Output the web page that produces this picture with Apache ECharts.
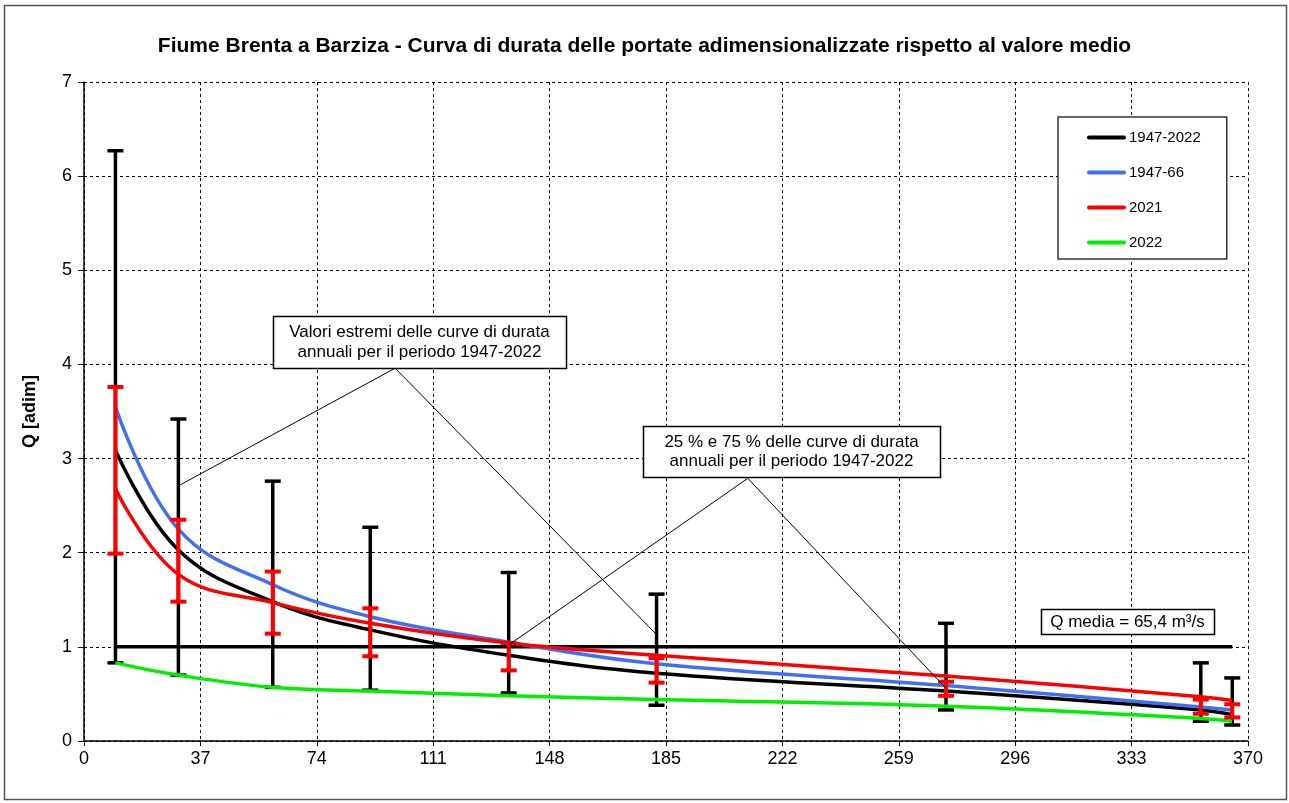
<!DOCTYPE html>
<html>
<head>
<meta charset="utf-8">
<script src="https://cdn.jsdelivr.net/npm/echarts@6/dist/echarts.min.js"></script>
<style>
html,body{margin:0;padding:0;background:#fff;}
#chart{width:1289px;height:803px;}
</style>
</head>
<body>
<div id="chart"></div>
<script>
// ---- data ----
var days = [10, 30, 60, 91, 135, 182, 274, 355, 365];
var curve1947_2022 = [3.09, 2.03, 1.48, 1.18, 0.91, 0.72, 0.53, 0.33, 0.28];
var curve1947_66   = [3.55, 2.25, 1.66, 1.32, 1.05, 0.82, 0.59, 0.36, 0.33];
var curve2021      = [2.68, 1.77, 1.47, 1.25, 1.04, 0.91, 0.69, 0.47, 0.43];
var curve2022      = [0.83, 0.70, 0.57, 0.53, 0.48, 0.44, 0.37, 0.24, 0.21];
var extremeMax = [6.27, 3.42, 2.76, 2.27, 1.79, 1.56, 1.25, 0.83, 0.67];
var extremeMin = [0.83, 0.70, 0.57, 0.54, 0.51, 0.38, 0.33, 0.21, 0.17];
var q75 = [3.76, 2.35, 1.80, 1.41, 1.04, 0.88, 0.63, 0.44, 0.39];
var q25 = [1.99, 1.48, 1.14, 0.90, 0.75, 0.62, 0.48, 0.29, 0.25];
var meanLine = [[10, 1], [365, 1]];
var seriesNames = ['1947-2022', '1947-66', '2021', '2022'];
var titleText = 'Fiume Brenta a Barziza - Curva di durata delle portate adimensionalizzate rispetto al valore medio';
var yName = 'Q [adim]';
var note1 = ['Valori estremi delle curve di durata', 'annuali per il periodo 1947-2022'];
var note2 = ['25 % e 75 % delle curve di durata', 'annuali per il periodo 1947-2022'];
var note3 = 'Q media = 65,4 m³/s';
// pointer polylines (data coords): target -> box anchor -> target
var pointer1 = [[30, 2.71], [98.9, 3.96], [182, 1.13]];
var pointer2 = [[135, 1.02], [211, 2.79], [274, 0.56]];

function zip(xs, ys) { return xs.map(function (x, i) { return [x, ys[i]]; }); }
function zip3(xs, a, b) { return xs.map(function (x, i) { return [x, a[i], b[i]]; }); }

function errRender(color, lw, cap) {
  return function (params, api) {
    var x = api.value(0), lo = api.value(1), hi = api.value(2);
    var pL = api.coord([x, lo]), pH = api.coord([x, hi]);
    var st = { stroke: color, lineWidth: lw };
    return {
      type: 'group',
      children: [
        { type: 'line', shape: { x1: pL[0], y1: pL[1], x2: pH[0], y2: pH[1] }, style: st },
        { type: 'line', shape: { x1: pH[0] - cap, y1: pH[1], x2: pH[0] + cap, y2: pH[1] }, style: st },
        { type: 'line', shape: { x1: pL[0] - cap, y1: pL[1], x2: pL[0] + cap, y2: pL[1] }, style: st }
      ]
    };
  };
}

var FONT = 'Liberation Sans, Arial, sans-serif';
var chart = echarts.init(document.getElementById('chart'), null, { renderer: 'canvas' });

function curve(name, data, color) {
  return {
    name: name, type: 'line', data: data, smooth: 0.4, symbol: 'none', z: 3,
    lineStyle: { color: color, width: 3.5 }, itemStyle: { color: color }, silent: true
  };
}

var option = {
  animation: false,
  backgroundColor: '#fff',
  title: {
    text: titleText, left: 'center', top: 31,
    textStyle: { fontFamily: FONT, fontSize: 21, fontWeight: 'bold', color: '#000' }
  },
  legend: {
    data: seriesNames, orient: 'vertical', left: 1058, top: 117,
    padding: [13, 26, 9, 29], itemGap: 20, itemWidth: 35, itemHeight: 14,
    borderColor: '#333', borderWidth: 1.5, backgroundColor: '#fff',
    itemStyle: { opacity: 0 },
    lineStyle: { width: 4, cap: 'round' },
    textStyle: { fontFamily: FONT, fontSize: 15, color: '#000' }, selectedMode: false
  },
  grid: { left: 84, right: 41, top: 82, bottom: 62, containLabel: false },
  xAxis: {
    type: 'value', min: 0, max: 370, interval: 37,
    axisLine: { show: true, lineStyle: { color: '#000', width: 1.5 } },
    axisTick: { show: true, length: 5, lineStyle: { color: '#000' } },
    axisLabel: { fontFamily: FONT, fontSize: 18, color: '#000', margin: 9 },
    splitLine: { show: true, lineStyle: { color: '#000', type: [3, 3], width: 1 } }
  },
  yAxis: {
    type: 'value', min: 0, max: 7, interval: 1,
    name: yName, nameLocation: 'middle', nameGap: 45,
    nameTextStyle: { fontFamily: FONT, fontSize: 18, fontWeight: 'bold', color: '#000' },
    axisLine: { show: true, lineStyle: { color: '#000', width: 1.5 } },
    axisTick: { show: true, length: 6, lineStyle: { color: '#000' } },
    axisLabel: { fontFamily: FONT, fontSize: 18, color: '#000', margin: 12 },
    splitLine: { show: true, lineStyle: { color: '#000', type: [3, 3], width: 1 } }
  },
  series: [
    {
      name: 'estremi', type: 'custom', data: zip3(days, extremeMin, extremeMax),
      renderItem: errRender('#000', 3.5, 8), z: 2, silent: true
    },
    {
      name: 'media', type: 'line', data: meanLine, symbol: 'none', z: 2, silent: true,
      lineStyle: { color: '#000', width: 3.5 }
    },
    curve(seriesNames[0], zip(days, curve1947_2022), '#000000'),
    curve(seriesNames[1], zip(days, curve1947_66), '#3f6ff2'),
    curve(seriesNames[2], zip(days, curve2021), '#ff0000'),
    curve(seriesNames[3], zip(days, curve2022), '#00ee00'),
    {
      name: 'quartili', type: 'custom', data: zip3(days, q25, q75),
      renderItem: errRender('#ff0000', 4, 8), z: 4, silent: true
    },
    {
      name: 'p1', type: 'line', data: pointer1, symbol: 'none', z: 5, silent: true,
      lineStyle: { color: '#000', width: 1 }
    },
    {
      name: 'p2', type: 'line', data: pointer2, symbol: 'none', z: 5, silent: true,
      lineStyle: { color: '#000', width: 1 }
    }
  ]
};
chart.setOption(option);

function box(x, y, w, h, lines, fs) {
  var children = [{
    type: 'rect', shape: { x: x + 0.5, y: y + 0.5, width: w, height: h },
    style: { fill: '#fff', stroke: '#000', lineWidth: 1.5 }
  }];
  var pad = lines.length > 1 ? 6 : 0;
  var step = lines.length > 1 ? (h - 2 * pad) / lines.length : h;
  lines.forEach(function (t, i) {
    children.push({
      type: 'text',
      style: {
        text: t, x: x + w / 2, y: y + pad + step * (i + 0.5) + 0.5,
        align: 'center', verticalAlign: 'middle',
        font: fs + 'px ' + FONT, fill: '#000'
      }
    });
  });
  return { type: 'group', z: 100, children: children };
}

chart.setOption({
  graphic: [
    {
      type: 'rect', z: -10, silent: true,
      shape: { x: 4.5, y: 5.5, width: 1282, height: 794 },
      style: { fill: 'none', stroke: '#555', lineWidth: 1.5 }
    },
    box(273, 316, 293, 52, note1, 17),
    box(643, 426, 297, 51, note2, 17),
    box(1041, 609, 173, 25, [note3], 17)
  ]
});
</script>
</body>
</html>
